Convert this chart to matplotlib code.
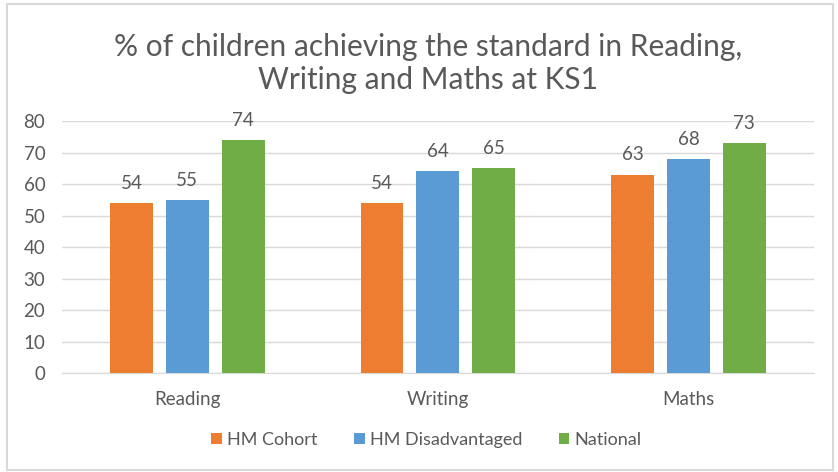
import numpy as np
import matplotlib.pyplot as plt
from matplotlib.patches import Rectangle

categories = ['Reading', 'Writing', 'Maths']
series_names = ['HM Cohort', 'HM Disadvantaged', 'National']
hm_cohort = [54, 54, 63]
hm_disadvantaged = [55, 64, 68]
national = [74, 65, 73]
yticks = [0, 10, 20, 30, 40, 50, 60, 70, 80]

colors = ['#ED7D31', '#5B9BD5', '#70AD47']
text_col = '#595959'

plt.rcParams['font.family'] = ['Lato', 'DejaVu Sans']

fig = plt.figure(figsize=(8.38, 4.72), dpi=100)
ax = fig.add_axes([0.074, 0.2097, 0.897, 0.5339])

# chart border
fig.patches.append(Rectangle((0.008, 0.004), 0.986, 0.988, transform=fig.transFigure,
                             fill=False, edgecolor='#D9D9D9', linewidth=1.5))

x = np.arange(len(categories))
width = 0.171
offset = 0.223
all_series = [hm_cohort, hm_disadvantaged, national]
for i, (vals, name) in enumerate(zip(all_series, series_names)):
    bars = ax.bar(x + (i - 1) * offset, vals, width, color=colors[i], label=name, zorder=3)
    for b, v in zip(bars, vals):
        ax.annotate(str(v), (b.get_x() + b.get_width() / 2, v), xytext=(0, 8),
                    textcoords='offset points', ha='center', va='bottom',
                    fontsize=13.5, color=text_col)

ax.set_xlim(-0.5, 2.5)
ax.set_ylim(0, 80)
ax.set_yticks(yticks)
ax.set_xticks(x)
ax.set_xticklabels(categories)
ax.yaxis.grid(True, color='#D9D9D9', linewidth=1, zorder=0)
ax.tick_params(axis='both', length=0, labelsize=13.5, labelcolor=text_col)
ax.tick_params(axis='x', pad=13)
ax.tick_params(axis='y', pad=12)
for s in ['top', 'right', 'left']:
    ax.spines[s].set_visible(False)
ax.spines['bottom'].set_color('#D9D9D9')

fig.text(0.511, 0.866, '% of children achieving the standard in Reading,\nWriting and Maths at KS1',
         ha='center', va='center', fontsize=21.5, color=text_col, linespacing=1.2)

leg = fig.legend(loc='center', bbox_to_anchor=(0.509, 0.068), ncol=3, frameon=False,
                 fontsize=13, handlelength=0.6, handleheight=0.6, handletextpad=0.3,
                 columnspacing=2.0)
for t in leg.get_texts():
    t.set_color(text_col)

fig.savefig('out.png', dpi=100)
